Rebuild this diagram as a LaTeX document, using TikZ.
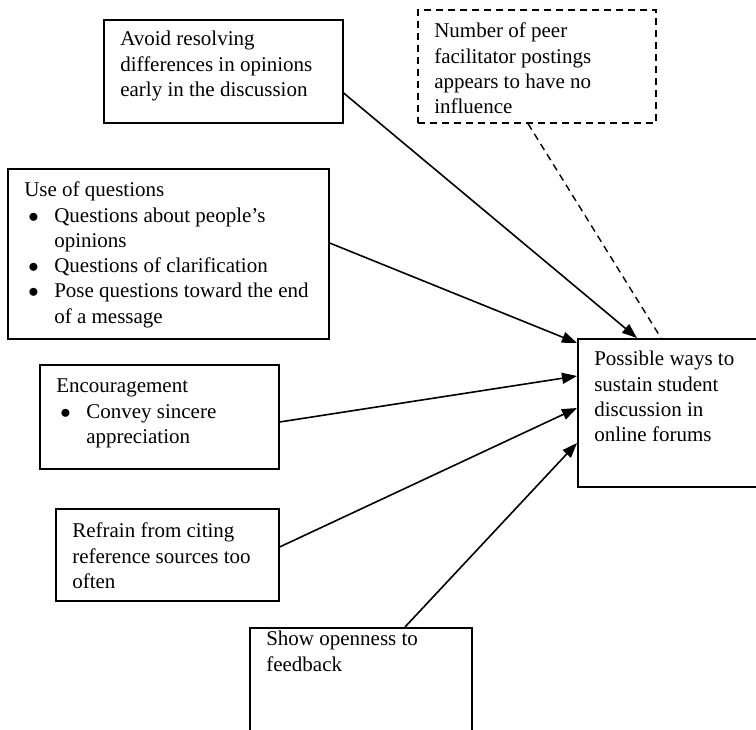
\documentclass[tikz,border=0pt]{standalone}
\usepackage{fontspec}
\setmainfont{Liberation Serif}
\usetikzlibrary{arrows.meta, positioning, calc}

% text block of a box: width, height, first baseline, text
\newcommand{\cellbox}[4]{\parbox[t][#2][t]{#1}{\raggedright\leftskip=16.5pt\relax
  \vspace*{\dimexpr#3-\ht\strutbox\relax}\strut#4}}
\newcommand{\bitem}[1]{\par\hangindent=30pt\hangafter=1\noindent
  \makebox[30pt][l]{\hspace{4pt}$\bullet$}#1\par}

\begin{document}
\begin{tikzpicture}[
x=1pt, y=-1pt,
every node/.style={font=\fontsize{21}{25.3}\selectfont},
box/.style={rectangle, draw, line width=1.6pt, anchor=north west, inner sep=0pt},
dbox/.style={box, dash pattern=on 7pt off 5pt},
arr/.style={-{Triangle[length=15pt, width=11pt]}, line width=1.6pt}
]
\useasboundingbox (0,0) rectangle (756,730);
\clip (0,0) rectangle (756,730);

\node[box] (avoid) at (103,19) {\cellbox{239pt}{103pt}{26pt}{Avoid resolving\\differences in opinions\\early in the discussion}};
\node[dbox] (peer) at (417,9) {\cellbox{238pt}{113pt}{28pt}{Number of peer\\facilitator postings\\appears to have no\\influence}};
\node[box] (questions) at (7,168) {\cellbox{321pt}{170pt}{28pt}{Use of questions
  \bitem{Questions about people’s\newline opinions}
  \bitem{Questions of clarification}
  \bitem{Pose questions toward the end\newline of a message}}};
\node[box] (encour) at (39,364) {\cellbox{239pt}{104pt}{28pt}{Encouragement
  \bitem{Convey sincere\newline appreciation}}};
\node[box] (refrain) at (55,508) {\cellbox{223pt}{92pt}{29pt}{Refrain from citing\\reference sources too\\often}};
\node[box] (openness) at (249,627) {\cellbox{222pt}{120pt}{18pt}{Show openness to\\feedback}};
\node[box] (target) at (577,338) {\cellbox{200pt}{148pt}{27pt}{Possible ways to\\sustain student\\discussion in\\online forums}};

\draw[arr] ($(avoid.north east)+(0,74)$) -- ($(target.north west)+(60,0)$);
\draw[line width=1.4pt, dash pattern=on 7pt off 5pt] ($(peer.south west)+(111,0)$) -- ($(target.north west)+(84,0)$);
\draw[arr] ($(questions.north east)+(0,75)$) -- ($(target.north west)+(0,5)$);
\draw[arr] ($(encour.north east)+(0,58)$) -- ($(target.north west)+(0,38)$);
\draw[arr] ($(refrain.north east)+(0,39)$) -- ($(target.north west)+(0,70)$);
\draw[arr] ($(openness.north west)+(156,0)$) -- ($(target.north west)+(0,105)$);
\end{tikzpicture}
\end{document}
